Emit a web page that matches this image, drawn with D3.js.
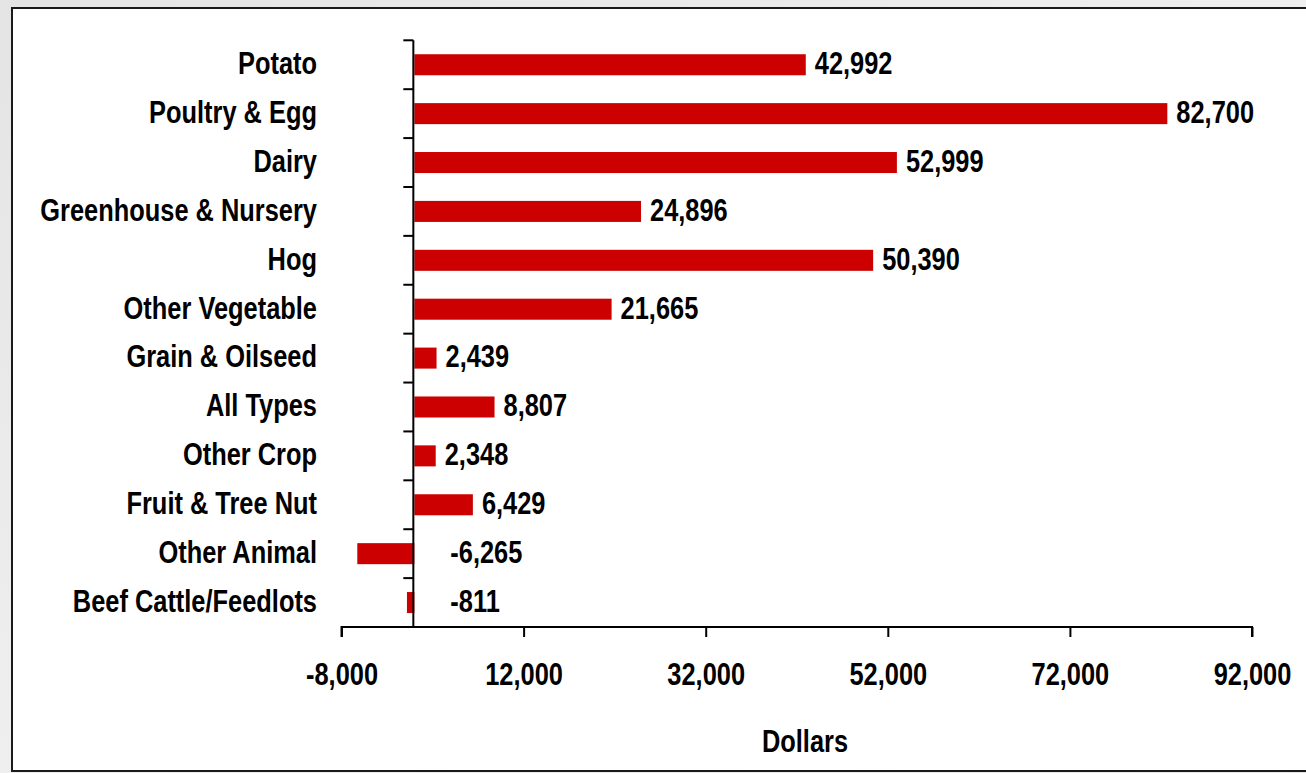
<!DOCTYPE html>
<html><head><meta charset="utf-8">
<script src="https://cdn.jsdelivr.net/npm/d3@7"></script>
<style>
html,body{margin:0;padding:0;background:#e9e9e9;}
svg{display:block;}
text{font-family:"Liberation Sans",Arial,sans-serif;font-weight:bold;fill:#000;}
</style></head>
<body>
<script>
const categories = ["Potato","Poultry & Egg","Dairy","Greenhouse & Nursery","Hog","Other Vegetable","Grain & Oilseed","All Types","Other Crop","Fruit & Tree Nut","Other Animal","Beef Cattle/Feedlots"];
const values = [42992,82700,52999,24896,50390,21665,2439,8807,2348,6429,-6265,-811];
const xTicks = [-8000,12000,32000,52000,72000,92000];
const xDomain = [-8000,92000];
const axisTitle = "Dollars";

const W=1306,H=773;
const SX=0.82, fs=31;
const fmt=d=>d3.format(",")(d).replace("\u2212","-");
const svg=d3.select("body").append("svg").attr("width",W).attr("height",H);
const defs=svg.append("defs");
const g=defs.append("linearGradient").attr("id","bg").attr("x1","0").attr("y1","0").attr("x2","1").attr("y2","1");
g.append("stop").attr("offset","0").attr("stop-color","#e4e4e4");
g.append("stop").attr("offset","0.5").attr("stop-color","#efefef");
g.append("stop").attr("offset","1").attr("stop-color","#e6e6e6");
svg.append("rect").attr("width",W).attr("height",H).attr("fill","url(#bg)");
svg.append("rect").attr("x",12).attr("y",8).attr("width",W+10).attr("height",763)
  .attr("fill","#fff").attr("stroke","#1a1a1a").attr("stroke-width",2);

const x=d3.scaleLinear().domain(xDomain).range([341.5,1252]);
const y=d3.scaleBand().domain(categories).range([40.3,627]).paddingInner(0.57).paddingOuter(0.285);

// bars
svg.append("g").selectAll("rect").data(values).join("rect")
  .attr("x",d=>x(Math.min(0,d))).attr("width",d=>Math.abs(x(d)-x(0)))
  .attr("y",(d,i)=>y(categories[i])).attr("height",y.bandwidth())
  .attr("fill","#cc0000");

// y axis
const yAxisX=x(0)-1;
const yl=svg.append("g").attr("stroke","#000").attr("stroke-width",2);
yl.append("line").attr("x1",yAxisX).attr("x2",yAxisX).attr("y1",40.3).attr("y2",627);
const bounds=categories.map(c=>y(c)-y.step()*y.paddingInner()/2).concat([627]);
yl.selectAll("line.t").data(bounds).join("line").attr("class","t")
  .attr("x1",yAxisX-10).attr("x2",yAxisX).attr("y1",d=>d).attr("y2",d=>d);

// x axis
const xa=svg.append("g").attr("transform","translate(0,627)")
  .call(d3.axisBottom(x).tickValues(xTicks).tickSize(10).tickFormat(fmt));
xa.attr("font-family",null).attr("font-size",null);
xa.select(".domain").attr("stroke","#000").attr("stroke-width",2).attr("d",`M${x(xDomain[0])},10V0H${x(xDomain[1])}V10`);
xa.selectAll(".tick line").attr("stroke","#000").attr("stroke-width",2);
xa.selectAll(".tick text").attr("y",0).attr("dy",null).attr("transform",`translate(0,58) scale(${SX},1)`)
  .style("font-size",fs+"px").attr("fill","#000");

// category labels
svg.append("g").selectAll("text").data(categories).join("text")
  .attr("transform",d=>`translate(317,${y(d)+y.bandwidth()/2}) scale(${SX},1)`).attr("dy","0.3em")
  .attr("text-anchor","end").style("font-size",fs+"px").text(d=>d);

// value labels
svg.append("g").selectAll("text").data(values).join("text")
  .attr("transform",(d,i)=>`translate(${d>=0?x(d)+9:x(0)+36},${y(categories[i])+y.bandwidth()/2}) scale(${SX},1)`).attr("dy","0.3em")
  .style("font-size",fs+"px").text(fmt);

svg.append("text").attr("transform",`translate(805,752) scale(${SX},1)`).attr("text-anchor","middle")
  .style("font-size",fs+"px").text(axisTitle);
</script>
</body></html>
